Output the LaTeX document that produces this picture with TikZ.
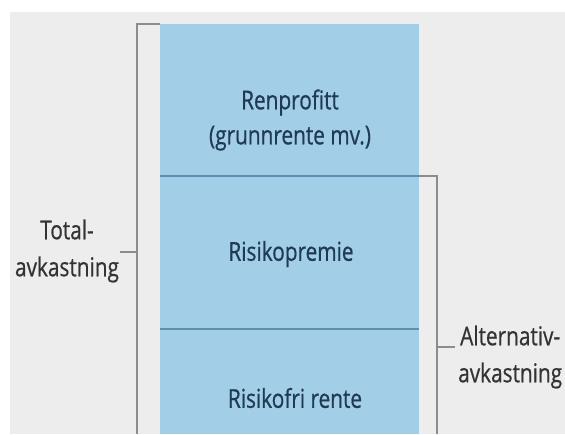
\documentclass[tikz,border=0pt]{standalone}
\usepackage{fontspec}
\setmainfont{Open Sans}[FakeStretch=0.8, FakeBold=0.6]
\definecolor{bggrey}{HTML}{EDEDEE}
\definecolor{boxblue}{HTML}{A2CEE8}
\definecolor{divblue}{HTML}{5F8FAE}
\definecolor{boxtext}{HTML}{1F3A52}
\definecolor{labtext}{HTML}{333333}
\definecolor{brack}{HTML}{8C8C8C}
\tikzset{
  x=1pt, y=-1pt,
  inbox/.style={font=\fontsize{26}{35}\selectfont, text=boxtext, align=center, inner sep=0pt},
  sidelab/.style={font=\fontsize{26}{37}\selectfont, text=labtext, align=center, inner sep=0pt},
  bracketline/.style={draw=brack, line width=1.3pt},
  divider/.style={draw=divblue, line width=1.6pt}
}
\begin{document}
\begin{tikzpicture}
\useasboundingbox (0,0) rectangle (565,434);
\fill[white] (0,0) rectangle (565,434);
\fill[bggrey] (10,12) rectangle (565,434);
\fill[boxblue] (160,24) rectangle (419,434);
% bracket corners
\coordinate (lt) at (137,24);
\coordinate (lb) at (137,434);
\coordinate (ltop) at (160,24);
\coordinate (ltick) at (120,252);
\coordinate (lmid) at (137,252);
\coordinate (rt) at (437,176);
\coordinate (rb) at (437,434);
\coordinate (rtop) at (419,176);
\coordinate (rmid) at (437,347);
\coordinate (rtick) at (455,347);
\draw[bracketline] (ltop) -- (lt) -- (lb);
\draw[bracketline] (ltick) -- (lmid);
\draw[bracketline] (rtop) -- (rt) -- (rb);
\draw[bracketline] (rmid) -- (rtick);
% dividers
\coordinate (d1l) at (160,176);
\coordinate (d1r) at (419,176);
\coordinate (d2l) at (160,329);
\coordinate (d2r) at (419,329);
\draw[divider] (d1l) -- (d1r);
\draw[divider] (d2l) -- (d2r);
% texts
\node[inbox] (ren) at (290,120) {Renprofitt\\(grunnrente mv.)};
\node[inbox] (risp) at (291,254) {Risikopremie};
\node[inbox] (risf) at (295,398) {Risikofri rente};
\node[sidelab] (tot) at (67,251) {Total-\\avkastning};
\node[sidelab, anchor=west] (alt) at (458,357) {Alternativ-\\avkastning};
\end{tikzpicture}
\end{document}
